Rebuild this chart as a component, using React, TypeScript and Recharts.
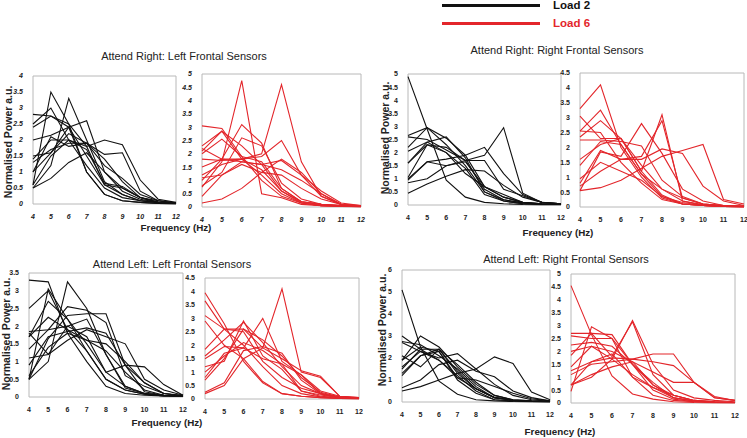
import React from 'react';
import { LineChart, Line, XAxis, YAxis, ReferenceArea } from 'recharts';

const freqs = [4, 5, 6, 7, 8, 9, 10, 11, 12];
const BLACK = '#111111';
const RED = '#e3262b';

// Attend Right: Left Frontal, Load 2
const arLeftLoad2 = [
  [0.6, 3.5, 2.5, 1.0, 0.3, 0.1, 0.05, 0.02, 0.01],
  [0.5, 1.2, 3.3, 2.0, 0.7, 0.3, 0.1, 0.05, 0.02],
  [2.8, 2.75, 2.4, 1.0, 0.3, 0.1, 0.05, 0.02, 0.01],
  [2.5, 3.0, 2.0, 1.2, 0.5, 0.2, 0.1, 0.05, 0.02],
  [2.4, 2.75, 2.5, 1.8, 0.6, 0.3, 0.1, 0.05, 0.02],
  [1.5, 1.6, 2.4, 2.6, 1.0, 0.5, 0.2, 0.05, 0.02],
  [1.4, 2.0, 2.0, 1.8, 2.0, 1.85, 0.75, 0.15, 0.05],
  [1.0, 2.1, 1.8, 1.9, 1.55, 1.6, 0.4, 0.1, 0.03],
  [2.0, 2.15, 2.4, 1.5, 0.6, 0.5, 0.2, 0.05, 0.02],
  [0.5, 0.8, 1.3, 1.6, 1.0, 0.4, 0.15, 0.05, 0.02],
  [1.0, 1.6, 2.2, 1.9, 1.2, 0.8, 0.3, 0.1, 0.03],
  [1.3, 1.7, 1.9, 1.9, 1.4, 0.7, 0.2, 0.1, 0.03],
  [0.6, 1.5, 2.0, 1.7, 0.65, 0.55, 0.2, 0.05, 0.02],
];

// Attend Right: Left Frontal, Load 6
const arLeftLoad6 = [
  [3.05, 2.95, 1.9, 1.0, 0.4, 0.15, 0.05, 0.03, 0.02],
  [2.3, 2.85, 2.3, 1.6, 0.6, 0.2, 0.1, 0.05, 0.02],
  [2.1, 2.85, 1.8, 1.2, 0.5, 0.15, 0.05, 0.03, 0.02],
  [2.0, 2.55, 1.9, 1.7, 0.7, 0.2, 0.1, 0.05, 0.02],
  [0.75, 1.7, 4.75, 0.5, 0.35, 0.1, 0.05, 0.02, 0.01],
  [1.2, 1.6, 1.8, 2.0, 4.6, 1.7, 0.4, 0.1, 0.03],
  [1.5, 1.8, 3.1, 2.4, 0.7, 0.2, 0.1, 0.03, 0.01],
  [0.8, 1.3, 2.6, 2.3, 0.9, 0.3, 0.1, 0.05, 0.02],
  [1.8, 1.75, 1.8, 1.9, 2.5, 1.2, 0.4, 0.1, 0.03],
  [0.15, 0.3, 0.7, 1.3, 1.8, 1.3, 0.5, 0.1, 0.03],
  [0.4, 1.2, 1.7, 1.6, 1.75, 1.2, 0.6, 0.15, 0.05],
  [1.1, 1.2, 1.6, 1.3, 1.2, 0.7, 0.3, 0.1, 0.03],
  [2.2, 1.8, 1.8, 1.4, 0.6, 0.15, 0.05, 0.03, 0.02],
  [1.0, 1.8, 1.7, 1.6, 1.4, 1.0, 0.5, 0.1, 0.05],
];

// Attend Right: Right Frontal, Load 2
const arRightLoad2 = [
  [4.9, 2.9, 0.95, 0.3, 0.1, 0.05, 0.02, 0.01, 0.01],
  [0.85, 1.0, 1.5, 1.7, 1.9, 2.95, 0.45, 0.1, 0.05],
  [2.65, 2.95, 2.55, 1.9, 0.7, 0.3, 0.1, 0.05, 0.02],
  [2.6, 2.5, 2.1, 1.7, 0.6, 0.2, 0.08, 0.03, 0.02],
  [2.2, 2.95, 2.3, 1.5, 0.5, 0.15, 0.05, 0.03, 0.02],
  [2.05, 2.4, 2.0, 1.4, 0.4, 0.15, 0.05, 0.03, 0.02],
  [1.6, 2.3, 2.0, 1.2, 0.7, 0.3, 0.1, 0.05, 0.02],
  [1.0, 1.65, 1.75, 1.9, 2.2, 1.2, 0.4, 0.1, 0.05],
  [0.45, 0.8, 1.1, 1.35, 1.3, 0.75, 0.3, 0.1, 0.05],
  [1.05, 2.3, 2.2, 1.7, 1.7, 0.6, 0.35, 0.1, 0.05],
  [0.95, 1.65, 1.5, 1.65, 0.7, 0.4, 0.1, 0.05, 0.02],
  [1.6, 2.4, 2.6, 1.8, 0.5, 0.2, 0.08, 0.03, 0.02],
];

// Attend Right: Right Frontal, Load 6
const arRightLoad6 = [
  [3.3, 4.1, 2.0, 1.0, 0.3, 0.1, 0.05, 0.02, 0.01],
  [3.05, 2.3, 2.3, 1.2, 0.4, 0.1, 0.05, 0.02, 0.01],
  [2.55, 3.25, 2.1, 1.1, 0.35, 0.1, 0.05, 0.02, 0.01],
  [2.35, 2.9, 2.3, 1.4, 0.6, 0.2, 0.08, 0.03, 0.02],
  [1.6, 2.1, 2.3, 1.2, 3.1, 0.2, 0.05, 0.03, 0.02],
  [0.8, 1.9, 1.6, 1.7, 2.9, 0.3, 0.1, 0.05, 0.02],
  [0.55, 1.85, 1.7, 2.8, 1.8, 0.6, 0.2, 0.05, 0.02],
  [0.55, 0.65, 0.9, 1.3, 1.7, 1.9, 2.1, 0.25, 0.1],
  [0.7, 1.2, 1.6, 1.6, 1.95, 1.8, 0.7, 0.2, 0.05],
  [2.25, 2.25, 2.2, 2.05, 0.9, 0.35, 0.1, 0.05, 0.02],
  [1.4, 2.2, 2.1, 1.1, 0.6, 0.3, 0.1, 0.05, 0.02],
  [0.95, 1.5, 1.2, 0.9, 0.35, 0.15, 0.05, 0.02, 0.01],
  [2.55, 2.5, 1.5, 0.8, 0.25, 0.1, 0.05, 0.02, 0.01],
];

// Attend Left: Left Frontal, Load 2
const alLeftLoad2 = [
  [3.3, 3.25, 1.8, 1.0, 0.3, 0.1, 0.05, 0.03, 0.02],
  [2.5, 3.0, 1.9, 1.3, 0.5, 0.2, 0.08, 0.03, 0.02],
  [0.5, 3.05, 2.2, 1.5, 0.7, 0.3, 0.1, 0.05, 0.02],
  [0.5, 1.0, 3.25, 2.5, 1.2, 0.25, 0.1, 0.05, 0.02],
  [1.85, 1.9, 2.55, 2.45, 2.1, 0.6, 0.3, 0.1, 0.03],
  [0.5, 1.65, 2.3, 2.35, 2.35, 0.9, 0.4, 0.1, 0.05],
  [1.1, 1.2, 1.6, 1.9, 1.7, 1.5, 0.5, 0.2, 0.05],
  [0.9, 1.7, 1.85, 1.95, 1.8, 0.9, 0.85, 0.35, 0.05],
  [1.7, 2.25, 1.9, 1.6, 1.5, 1.0, 0.4, 0.1, 0.03],
  [1.35, 1.9, 2.0, 1.7, 0.7, 0.9, 0.15, 0.05, 0.02],
  [1.8, 1.2, 2.0, 2.2, 1.2, 0.3, 0.1, 0.05, 0.02],
  [0.6, 1.4, 1.8, 1.6, 1.3, 0.7, 0.2, 0.05, 0.02],
  [1.7, 2.7, 2.2, 1.3, 0.5, 0.2, 0.08, 0.03, 0.02],
];

// Attend Left: Left Frontal, Load 6
const alLeftLoad6 = [
  [3.95, 2.8, 1.4, 0.6, 0.2, 0.1, 0.05, 0.02, 0.01],
  [3.65, 2.6, 2.0, 1.2, 0.5, 0.2, 0.08, 0.03, 0.02],
  [3.1, 2.6, 2.5, 1.4, 0.8, 0.4, 0.2, 0.05, 0.02],
  [0.2, 0.5, 1.5, 1.9, 4.1, 1.0, 0.8, 0.1, 0.05],
  [0.8, 1.7, 1.9, 3.0, 1.4, 0.9, 0.2, 0.05, 0.02],
  [1.6, 2.2, 2.85, 2.1, 1.2, 0.5, 0.2, 0.05, 0.02],
  [1.2, 1.4, 2.9, 1.6, 1.1, 0.3, 0.1, 0.05, 0.02],
  [0.7, 1.5, 2.6, 2.2, 1.6, 0.8, 0.25, 0.08, 0.03],
  [1.85, 2.6, 2.6, 1.9, 1.5, 1.05, 0.85, 0.1, 0.05],
  [0.25, 0.6, 1.8, 1.95, 1.7, 0.7, 0.2, 0.05, 0.02],
  [1.5, 1.95, 1.9, 1.5, 1.3, 0.9, 0.3, 0.1, 0.03],
  [1.0, 1.6, 2.1, 1.8, 1.3, 0.3, 0.15, 0.05, 0.02],
  [2.9, 2.0, 1.5, 0.65, 0.2, 0.1, 0.05, 0.02, 0.01],
];

// Attend Left: Right Frontal, Load 2
const alRightLoad2 = [
  [5.1, 2.5, 0.95, 0.35, 0.1, 0.05, 0.02, 0.01, 0.01],
  [3.0, 2.4, 2.4, 1.4, 0.6, 0.2, 0.08, 0.03, 0.02],
  [2.75, 2.6, 2.1, 1.5, 0.7, 0.2, 0.08, 0.03, 0.02],
  [2.7, 2.3, 1.9, 1.2, 0.5, 0.1, 0.05, 0.02, 0.01],
  [1.9, 3.0, 2.5, 1.6, 0.8, 0.3, 0.1, 0.05, 0.02],
  [2.1, 1.6, 2.4, 1.3, 0.6, 0.2, 0.08, 0.03, 0.02],
  [1.6, 2.3, 2.0, 2.2, 1.5, 0.8, 0.3, 0.1, 0.03],
  [0.5, 0.7, 1.0, 1.3, 1.5, 2.05, 1.75, 0.45, 0.1],
  [0.65, 1.0, 1.7, 1.9, 1.4, 1.15, 0.5, 0.2, 0.05],
  [1.2, 2.1, 2.4, 1.7, 0.9, 0.3, 0.1, 0.05, 0.02],
  [1.3, 2.1, 2.3, 1.1, 0.6, 0.2, 0.08, 0.03, 0.02],
  [1.9, 2.5, 2.3, 1.0, 0.4, 0.1, 0.05, 0.02, 0.01],
  [1.5, 2.4, 1.9, 1.1, 1.0, 0.7, 0.4, 0.15, 0.05],
];

// Attend Left: Right Frontal, Load 6
const alRightLoad6 = [
  [4.55, 2.65, 1.05, 0.35, 0.15, 0.05, 0.02, 0.01, 0.01],
  [2.7, 2.7, 2.65, 1.5, 0.5, 0.15, 0.05, 0.03, 0.02],
  [2.6, 2.5, 2.5, 1.0, 0.6, 0.2, 0.08, 0.03, 0.02],
  [0.45, 2.95, 2.5, 1.5, 0.7, 0.2, 0.08, 0.03, 0.02],
  [0.7, 1.0, 1.7, 3.2, 1.5, 0.5, 0.2, 0.1, 0.05],
  [1.85, 2.7, 1.8, 3.15, 1.1, 0.3, 0.1, 0.05, 0.02],
  [2.25, 2.35, 2.2, 1.5, 0.8, 0.2, 0.08, 0.03, 0.02],
  [1.25, 1.6, 1.75, 1.7, 1.9, 1.9, 0.8, 0.2, 0.1],
  [1.1, 1.5, 1.6, 1.7, 1.6, 1.45, 0.8, 0.2, 0.1],
  [0.7, 1.1, 1.4, 1.6, 1.2, 0.8, 0.8, 0.25, 0.1],
  [2.0, 2.2, 2.0, 1.6, 0.7, 0.3, 0.1, 0.05, 0.02],
  [1.4, 2.2, 1.7, 1.1, 0.6, 0.3, 0.1, 0.05, 0.02],
  [0.7, 1.6, 1.9, 1.0, 0.3, 0.1, 0.05, 0.02, 0.01],
];

const Y_W = 22;
const X_H = 16;
const M_TOP = 6;
const M_RIGHT = 8;

interface PanelProps {
  series: number[][];
  color: string;
  yMax: number;
  yStep: number;
  left: number;
  top: number;
  right: number;
  bottom: number;
  italic?: boolean;
}

function Panel({ series, color, yMax, yStep, left, top, right, bottom, italic }: PanelProps) {
  const rows = freqs.map((f, i) => {
    const row: Record<string, number> = { f };
    series.forEach((s, k) => { row['s' + k] = s[i]; });
    return row;
  });
  const yTicks: number[] = [];
  for (let v = 0; v <= yMax + 1e-9; v += yStep) yTicks.push(Math.round(v * 10) / 10);
  const w = right - left + Y_W + M_RIGHT;
  const h = bottom - top + M_TOP + X_H;
  const tick = { fontSize: 7, fill: '#222', fontWeight: 700, fontStyle: italic ? 'italic' : 'normal' };
  return (
    <div style={{ position: 'absolute', left: left - Y_W, top: top - M_TOP }}>
      <LineChart width={w} height={h} data={rows} margin={{ top: M_TOP, right: M_RIGHT, bottom: 0, left: 0 }}>
        <XAxis dataKey="f" type="number" domain={[4, 12]} ticks={freqs} height={X_H}
          tick={tick} tickLine={false} axisLine={false} tickMargin={4} interval={0} />
        <YAxis type="number" domain={[0, yMax]} ticks={yTicks} width={Y_W}
          tick={tick} tickLine={false} axisLine={false} tickMargin={4} interval={0} />
        <ReferenceArea x1={4} x2={12} y1={0} y2={yMax} fill="none" stroke="#b8b8b8" strokeWidth={1} />
        {series.map((_, k) => (
          <Line key={k} dataKey={'s' + k} stroke={color} strokeWidth={1.1} dot={false}
            isAnimationActive={false} type="linear" />
        ))}
      </LineChart>
    </div>
  );
}

const font = '"Liberation Sans", Arial, sans-serif';

function Txt({ x, y, children, size = 11, bold = false, color = '#222', rotate = false }:
  { x: number; y: number; children: React.ReactNode; size?: number; bold?: boolean; color?: string; rotate?: boolean }) {
  return (
    <div style={{
      position: 'absolute', left: x, top: y, fontFamily: font, fontSize: size,
      fontWeight: bold ? 700 : 400, color, whiteSpace: 'nowrap', lineHeight: 1,
      transform: `translate(-50%, -50%)${rotate ? ' rotate(-90deg)' : ''}`,
    }}>{children}</div>
  );
}

export default function App() {
  return (
    <div style={{ position: 'fixed', left: 0, top: 0, width: 747, height: 438, background: '#fff', overflow: 'hidden', fontFamily: font }}>
      {/* legend */}
      <div style={{ position: 'absolute', left: 442, top: 4, width: 98, height: 3, background: BLACK }} />
      <div style={{ position: 'absolute', left: 442, top: 22, width: 98, height: 3, background: RED }} />
      <div style={{ position: 'absolute', left: 553, top: -1, fontSize: 11.5, fontWeight: 700, color: BLACK }}>Load 2</div>
      <div style={{ position: 'absolute', left: 553, top: 17, fontSize: 11.5, fontWeight: 700, color: RED }}>Load 6</div>

      <Txt x={184} y={56}>Attend Right: Left Frontal Sensors</Txt>
      <Txt x={557} y={50}>Attend Right: Right Frontal Sensors</Txt>
      <Txt x={172} y={264}>Attend Left: Left Frontal Sensors</Txt>
      <Txt x={566} y={259}>Attend Left: Right Frontal Sensors</Txt>

      <Txt x={176} y={228} bold size={9.8}>Frequency (Hz)</Txt>
      <Txt x={558} y={233} bold size={9.8}>Frequency (Hz)</Txt>
      <Txt x={167} y={423} bold size={9.8}>Frequency (Hz)</Txt>
      <Txt x={560} y={432} bold size={9.8}>Frequency (Hz)</Txt>

      <Txt x={8} y={142} bold size={10.5} rotate>Normalised Power a.u.</Txt>
      <Txt x={385} y={138} bold size={10.5} rotate>Normalised Power a.u.</Txt>
      <Txt x={6} y={334} bold size={10.5} rotate>Normalised Power a.u.</Txt>
      <Txt x={382} y={330} bold size={10.5} rotate>Normalised Power a.u.</Txt>

      <Panel series={arLeftLoad2} color={BLACK} yMax={4} yStep={0.5} left={33} top={76} right={176} bottom={204} italic />
      <Panel series={arLeftLoad6} color={RED} yMax={5} yStep={0.5} left={202} top={74} right={361} bottom={207} italic />
      <Panel series={arRightLoad2} color={BLACK} yMax={5} yStep={0.5} left={408} top={74} right={561} bottom={205} />
      <Panel series={arRightLoad6} color={RED} yMax={4.5} yStep={0.5} left={580} top={73} right={744} bottom={207} />
      <Panel series={alLeftLoad2} color={BLACK} yMax={3.5} yStep={0.5} left={29} top={273} right={183} bottom={397} />
      <Panel series={alLeftLoad6} color={RED} yMax={4.5} yStep={0.5} left={205} top={278} right={359} bottom={399} />
      <Panel series={alRightLoad2} color={BLACK} yMax={6} yStep={1} left={402} top={270} right={550} bottom={402} />
      <Panel series={alRightLoad6} color={RED} yMax={5} yStep={0.5} left={571} top={274} right={735} bottom={403} />
    </div>
  );
}
